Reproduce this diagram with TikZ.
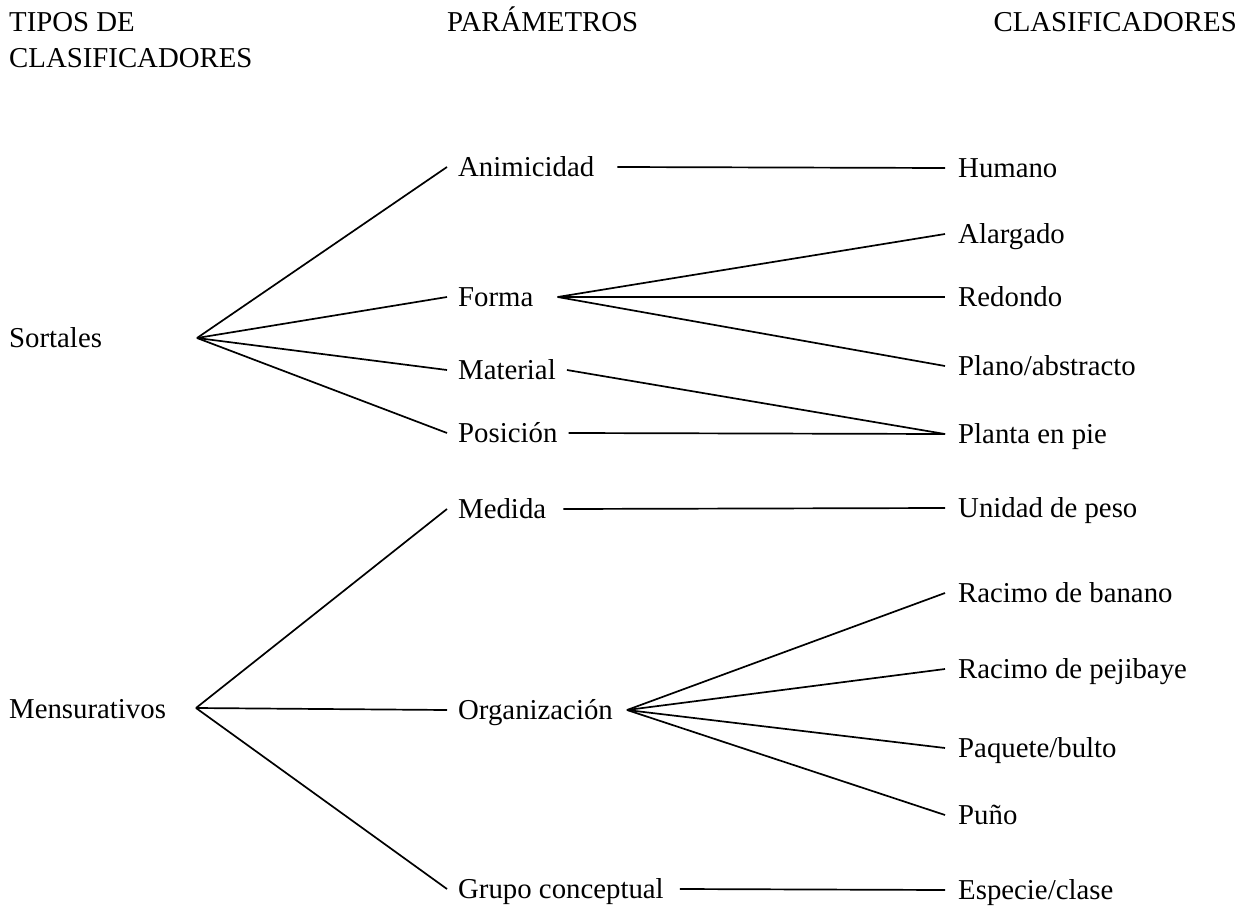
\documentclass[tikz,border=0pt]{standalone}
\usepackage{fontspec}
\setmainfont{Liberation Serif}
\usepackage{tikz}

\begin{document}
\begin{tikzpicture}[x=1pt, y=-1pt]
		\tikzset{head/.style={anchor=base west, inner sep=0pt, font=\fontsize{28.8}{35}\selectfont}}
		\tikzset{word/.style={anchor=west, inner xsep=0pt, inner ysep=0pt, text height=18pt, text depth=0pt, font=\fontsize{28.8}{35}\selectfont}}
		\tikzset{param/.style={word, inner xsep=11pt}}
		\tikzset{clsf/.style={word, inner xsep=13pt}}
		\tikzset{edge/.style={line width=1.7pt}}
		\useasboundingbox (0,0) rectangle (1243,907);
					%headings
					\node[head] (tipos) at (9,32) {TIPOS DE};
					\node[head] (tiposb) at (9,67) {CLASIFICADORES};
					\node[head] (params) at (447,32) {PARÁMETROS};
					\node[head, anchor=base east] (clasifs) at (1237,32) {CLASIFICADORES};
					%types
					\node[word] (sort) at (9,338) {Sortales};
					\node[word] (mens) at (9,709) {Mensurativos};
					\coordinate (sroot) at (197,338);
					\coordinate (mroot) at (196,708);
					%parameters
					\node[param] (anim) at (447,167) {Animicidad};
					\node[param] (forma) at (447,297) {Forma};
					\node[param] (mat) at (447,370) {Material};
					\node[param] (pos) at (447,433) {Posición};
					\node[param] (med) at (447,509) {Medida};
					\node[param] (org) at (447,710) {Organización};
					\node[param] (grupo) at (447,889) {Grupo conceptual};
					%classifiers
					\node[clsf] (hum) at (945,168) {Humano};
					\node[clsf] (alarg) at (945,234) {Alargado};
					\node[clsf] (red) at (945,297) {Redondo};
					\node[clsf] (plano) at (945,366) {Plano/abstracto};
					\node[clsf] (planta) at (945,434) {Planta en pie};
					\node[clsf] (unid) at (945,508) {Unidad de peso};
					\node[clsf] (banano) at (945,593) {Racimo de banano};
					\node[clsf] (peji) at (945,669) {Racimo de pejibaye};
					\node[clsf] (paq) at (945,748) {Paquete/bulto};
					\node[clsf] (puno) at (945,815) {Puño};
					\node[clsf] (esp) at (945,890) {Especie/clase};
					%edges
					\draw[edge] (sroot) -- (anim.west);
					\draw[edge] (sroot) -- (forma.west);
					\draw[edge] (sroot) -- (mat.west);
					\draw[edge] (sroot) -- (pos.west);
					\draw[edge] (mroot) -- (med.west);
					\draw[edge] (mroot) -- (org.west);
					\draw[edge] (mroot) -- (grupo.west);
					\draw[edge] ([xshift=12pt]anim.east) -- (hum.west);
					\draw[edge] ([xshift=13pt]forma.east) -- (alarg.west);
					\draw[edge] ([xshift=13pt]forma.east) -- (red.west);
					\draw[edge] ([xshift=13pt]forma.east) -- (plano.west);
					\draw[edge] (mat.east) -- (planta.west);
					\draw[edge] (pos.east) -- (planta.west);
					\draw[edge] ([xshift=6pt]med.east) -- (unid.west);
					\draw[edge] ([xshift=3pt]org.east) -- (banano.west);
					\draw[edge] ([xshift=3pt]org.east) -- (peji.west);
					\draw[edge] ([xshift=3pt]org.east) -- (paq.west);
					\draw[edge] ([xshift=3pt]org.east) -- (puno.west);
					\draw[edge] ([xshift=5pt]grupo.east) -- (esp.west);
					
					\end{tikzpicture}
\end{document}
